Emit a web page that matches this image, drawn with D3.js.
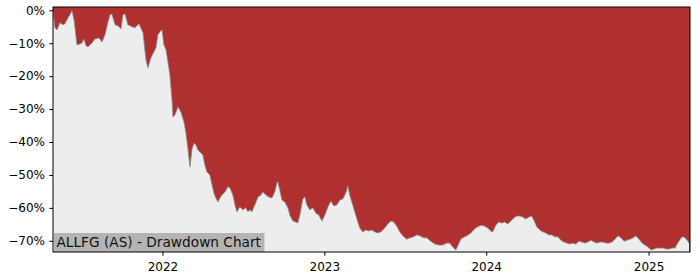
<!DOCTYPE html>
<html><head><meta charset="utf-8">
<script src="https://cdn.jsdelivr.net/npm/d3@7"></script>
<style>body{margin:0;background:#fff}svg{display:block}</style>
</head><body>
<script>
// time in decimal years, drawdown in percent
const times = [2021.324,2021.336,2021.349,2021.367,2021.386,2021.398,2021.417,2021.435,2021.441,2021.454,2021.472,2021.491,2021.503,2021.515,2021.528,2021.540,2021.565,2021.583,2021.608,2021.627,2021.645,2021.664,2021.676,2021.688,2021.707,2021.725,2021.744,2021.756,2021.769,2021.787,2021.812,2021.830,2021.855,2021.880,2021.898,2021.910,2021.929,2021.941,2021.960,2021.972,2021.985,2021.997,2022.009,2022.022,2022.034,2022.046,2022.059,2022.065,2022.077,2022.096,2022.114,2022.133,2022.145,2022.157,2022.170,2022.182,2022.194,2022.207,2022.219,2022.231,2022.250,2022.262,2022.275,2022.293,2022.306,2022.318,2022.330,2022.343,2022.355,2022.367,2022.386,2022.404,2022.417,2022.435,2022.448,2022.460,2022.478,2022.497,2022.515,2022.528,2022.540,2022.552,2022.571,2022.590,2022.608,2022.620,2022.639,2022.657,2022.676,2022.694,2022.707,2022.713,2022.725,2022.738,2022.756,2022.775,2022.787,2022.806,2022.824,2022.836,2022.849,2022.867,2022.880,2022.892,2022.910,2022.929,2022.948,2022.966,2022.985,2023.003,2023.022,2023.040,2023.059,2023.077,2023.096,2023.114,2023.127,2023.139,2023.145,2023.157,2023.170,2023.188,2023.207,2023.219,2023.238,2023.256,2023.275,2023.293,2023.312,2023.330,2023.349,2023.373,2023.392,2023.410,2023.429,2023.448,2023.466,2023.485,2023.509,2023.528,2023.546,2023.571,2023.590,2023.614,2023.633,2023.657,2023.682,2023.707,2023.731,2023.756,2023.775,2023.793,2023.812,2023.824,2023.843,2023.861,2023.880,2023.898,2023.917,2023.935,2023.954,2023.972,2023.991,2024.009,2024.028,2024.040,2024.059,2024.077,2024.096,2024.114,2024.133,2024.151,2024.170,2024.188,2024.207,2024.225,2024.244,2024.262,2024.281,2024.293,2024.312,2024.330,2024.349,2024.367,2024.386,2024.404,2024.423,2024.441,2024.460,2024.478,2024.497,2024.515,2024.534,2024.552,2024.571,2024.590,2024.608,2024.627,2024.645,2024.664,2024.682,2024.701,2024.719,2024.738,2024.756,2024.775,2024.793,2024.812,2024.830,2024.849,2024.867,2024.886,2024.904,2024.923,2024.941,2024.960,2024.978,2024.997,2025.015,2025.034,2025.052,2025.071,2025.090,2025.108,2025.127,2025.145,2025.164,2025.176,2025.188,2025.201,2025.213,2025.225,2025.238,2025.250];
const drawdown = [0,-5.3,-5.9,-3.8,-4.4,-4.1,-2.3,-0.8,0,-2.9,-10.5,-10.2,-9.9,-8.7,-10.8,-11.1,-9.9,-8.7,-8.4,-9.6,-7.4,-3.5,-1.4,-1.1,-4.4,-4.7,-5.6,-1.4,-1.1,-4.4,-5.0,-5.3,-4.1,-6.8,-15.0,-17.5,-14.4,-13.2,-11.4,-7.4,-6.5,-5.9,-10.5,-12.0,-15.7,-19.6,-27.2,-32.4,-31.8,-29.3,-30.9,-33.9,-37.2,-41.8,-47.6,-42.4,-40.3,-40.9,-42.4,-43.0,-43.9,-47.0,-49.1,-50.0,-53.0,-55.5,-57.0,-58.2,-57.0,-56.1,-55.2,-53.6,-53.9,-56.1,-59.1,-61.2,-59.7,-60.6,-60.0,-61.2,-60.6,-61.2,-59.1,-56.7,-56.1,-55.2,-56.1,-56.7,-57.0,-55.2,-52.4,-52.1,-54.6,-57.6,-58.2,-60.0,-62.2,-64.0,-64.3,-64.6,-62.2,-57.3,-56.7,-59.1,-60.6,-60.0,-61.6,-62.2,-64.0,-62.2,-59.7,-57.9,-59.4,-59.1,-57.6,-57.3,-56.1,-54.6,-53.3,-56.1,-58.2,-61.2,-64.3,-66.1,-67.3,-66.7,-67.0,-66.7,-67.3,-67.6,-67.3,-66.1,-64.9,-64.0,-64.3,-65.6,-67.3,-68.5,-69.5,-69.1,-68.9,-68.2,-68.5,-69.1,-69.1,-70.1,-71.0,-71.3,-71.3,-70.7,-70.7,-71.9,-72.8,-71.6,-69.5,-68.9,-68.5,-67.9,-67.0,-66.1,-65.6,-65.3,-65.6,-66.1,-67.0,-67.3,-65.3,-64.3,-64.6,-64.3,-64.9,-64.0,-63.1,-62.5,-62.5,-62.8,-63.4,-62.8,-62.5,-63.7,-65.8,-66.7,-67.3,-67.6,-68.2,-68.2,-68.8,-68.8,-69.8,-70.4,-70.7,-71.0,-70.7,-71.0,-70.1,-70.4,-70.7,-70.4,-69.8,-70.4,-70.7,-70.4,-70.4,-70.7,-70.7,-70.4,-69.5,-68.5,-69.1,-70.1,-69.8,-69.5,-69.1,-68.5,-69.5,-70.7,-71.3,-71.9,-72.8,-72.5,-72.2,-72.2,-72.2,-72.5,-72.5,-72.2,-72.2,-71.0,-70.1,-69.1,-68.8,-69.1,-69.8,-70.7];
const yTicks = [0,-10,-20,-30,-40,-50,-60,-70];
const xTickYears = [2022,2023,2024,2025];
const title = "ALLFG (AS) - Drawdown Chart";
const xStart = 2021.324, xEnd = 2025.256;

function toDate(t){
  const y = Math.floor(t);
  const a = new Date(y,0,1).getTime(), b = new Date(y+1,0,1).getTime();
  return new Date(a + (t-y)*(b-a));
}
const data = times.map((t,i)=>({d:toDate(t), v:drawdown[i]}));

const W=700,H=280, m={l:53,r:10,t:7,b:28};
const svg = d3.select("body").append("svg").attr("width",W).attr("height",H)
  .style("font-family","'DejaVu Sans', sans-serif");

const x = d3.scaleTime().domain([toDate(xStart),toDate(xEnd)]).range([m.l,W-m.r]);
const y = d3.scaleLinear().domain([-73.4,1.0]).range([H-m.b,m.t]);

svg.append("defs").append("clipPath").attr("id","c").append("rect")
  .attr("x",m.l).attr("y",m.t).attr("width",W-m.l-m.r).attr("height",H-m.t-m.b);

const g = svg.append("g").attr("clip-path","url(#c)");
g.append("rect").attr("x",m.l).attr("y",m.t).attr("width",W-m.l-m.r).attr("height",H-m.t-m.b).attr("fill","#b03030");
g.append("path").datum(data)
  .attr("d", d3.area().x(d=>x(d.d)).y0(H-m.b).y1(d=>y(d.v)))
  .attr("fill","#ededed");
g.append("path").datum(data)
  .attr("d", d3.line().x(d=>x(d.d)).y(d=>y(d.v)))
  .attr("fill","none").attr("stroke","#8a8a8a").attr("stroke-width",0.8);

// y axis
const ya = svg.append("g").attr("transform",`translate(${m.l},0)`)
  .call(d3.axisLeft(y).tickValues(yTicks).tickSize(3.7).tickPadding(4.3)
    .tickFormat(d=> (d<0?"\u2212":"") + Math.abs(d) + "%"));
ya.select(".domain").remove();
ya.selectAll("text").attr("font-size",12).attr("fill","#000").style("font-family","'DejaVu Sans', sans-serif");
ya.selectAll("line").attr("stroke","#000");

// x axis
const xa = svg.append("g").attr("transform",`translate(0,${H-m.b})`)
  .call(d3.axisBottom(x).tickValues(xTickYears.map(yr=>new Date(yr,0,1))).tickSize(3.7).tickPadding(7)
    .tickFormat(d3.timeFormat("%Y")));
xa.select(".domain").remove();
xa.selectAll("text").attr("font-size",12).attr("fill","#000").style("font-family","'DejaVu Sans', sans-serif");
xa.selectAll("line").attr("stroke","#000");

// title box
const tg = svg.append("g");
const tb = tg.append("rect").attr("fill","#b4b4b4");
const tt = tg.append("text").attr("x",56.5).attr("y",247.3).attr("font-size",13.7).attr("fill","#111").text(title);
const tw = tt.node().getComputedTextLength();
tb.attr("x",54).attr("y",233).attr("width",tw+6).attr("height",H-m.b-233);

// frame
svg.append("rect").attr("x",m.l).attr("y",m.t).attr("width",W-m.l-m.r).attr("height",H-m.t-m.b)
  .attr("fill","none").attr("stroke","#000").attr("stroke-width",1);
</script>
</body></html>
